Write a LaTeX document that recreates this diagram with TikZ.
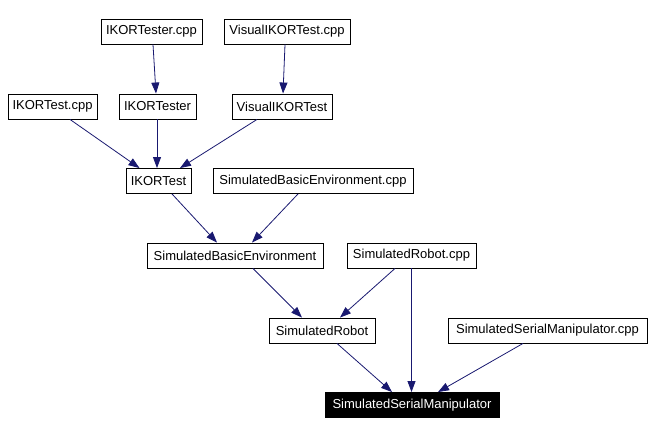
\documentclass[tikz,border=0pt]{standalone}
\usepackage{fontspec}
\setmainfont{Liberation Sans}
\usetikzlibrary{arrows.meta}
\definecolor{edgeblue}{HTML}{191970}
\tikzset{
  box/.style={draw=black, line width=0.9pt, minimum height=25pt, inner sep=0pt, font=\fontsize{13}{15}\selectfont, anchor=center},
  dep/.style={draw=edgeblue, line width=0.8pt, -{Triangle[length=11pt,width=8pt]}, fill=none},
  hl/.style={box, fill=black, text=white}
}
\begin{document}
\begin{tikzpicture}[x=1pt,y=-1pt]
\useasboundingbox (0,0) rectangle (652,435);
\node[box, minimum width=101pt] (itcpp) at (151.5,31.5) {IKORTester.cpp};
\node[box, minimum width=126pt] (vitcpp) at (287,31.5) {VisualIKORTest.cpp};
\node[box, minimum width=89pt] (itestcpp) at (52.5,106.5) {IKORTest.cpp};
\node[box, minimum width=77pt] (iter) at (157.5,106.5) {IKORTester};
\node[box, minimum width=100pt] (vit) at (282,106.5) {VisualIKORTest};
\node[box, minimum width=65pt] (itest) at (158.5,181) {IKORTest};
\node[box, minimum width=200pt] (sbecpp) at (313,181) {SimulatedBasicEnvironment.cpp};
\node[box, minimum width=176pt] (sbe) at (235,255.5) {SimulatedBasicEnvironment};
\node[box, minimum width=129pt] (srcpp) at (411.5,255.5) {SimulatedRobot.cpp};
\node[box, minimum width=106pt] (sr) at (322,330.5) {SimulatedRobot};
\node[box, minimum width=199pt] (ssmcpp) at (547.5,330.5) {SimulatedSerialManipulator.cpp};
\node[hl, minimum width=174pt] (ssm) at (412,405) {SimulatedSerialManipulator};

\draw[dep] ([xshift=1.5pt]itcpp.south) -- ([xshift=-1.5pt]iter.north);
\draw[dep] ([xshift=-2pt]vitcpp.south) -- ([xshift=1pt]vit.north);
\draw[dep] ([xshift=17.5pt]itestcpp.south) -- ([xshift=-19pt]itest.north);
\draw[dep] ([xshift=-0.5pt]iter.south) -- ([xshift=-1.5pt]itest.north);
\draw[dep] ([xshift=-25pt]vit.south) -- ([xshift=21.5pt]itest.north);
\draw[dep] ([xshift=13.5pt]itest.south) -- ([xshift=-18pt]sbe.north);
\draw[dep] ([xshift=-15pt]sbecpp.south) -- ([xshift=17pt]sbe.north);
\draw[dep] ([xshift=18pt]sbe.south) -- ([xshift=-20pt]sr.north);
\draw[dep] ([xshift=-16.5pt]srcpp.south) -- ([xshift=18pt]sr.north);
\draw[dep] ([xshift=0pt]srcpp.south) -- ([xshift=-0.5pt]ssm.north);
\draw[dep] ([xshift=15pt]sr.south) -- ([xshift=-20pt]ssm.north);
\draw[dep] ([xshift=-24.5pt]ssmcpp.south) -- ([xshift=26pt]ssm.north);
\end{tikzpicture}
\end{document}
